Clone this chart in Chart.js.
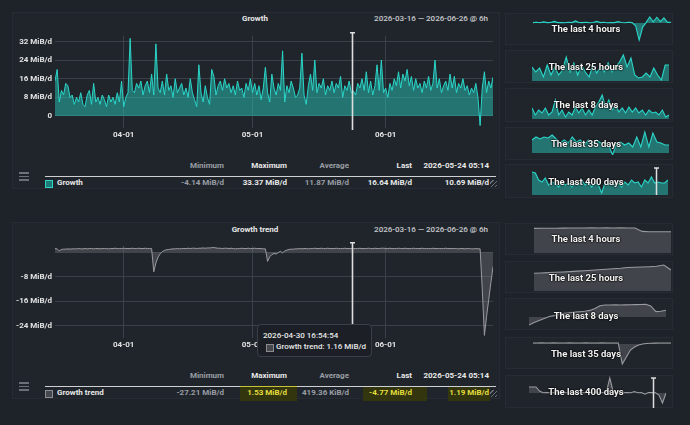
<!DOCTYPE html>
<html>
<head>
<meta charset="utf-8">
<script src="https://cdn.jsdelivr.net/npm/chart.js@4"></script>
<style>
html, body { margin: 0; padding: 0; }
body { position: relative; width: 690px; height: 425px; overflow: hidden; background: #1e2329; font-family: Roboto, "Noto Sans", sans-serif; }
.panel { position: absolute; background: #20252c; border: 1px solid #272c34; box-sizing: border-box; }
canvas { position: absolute; }
.t { position: absolute; line-height: 10px; font-size: 8px; font-weight: 700; color: #e8e8e8; white-space: nowrap; }
.g { color: #9a9ea4; }
.y { color: #e4df3c; }
.c { transform: translateX(-50%); }
.spark { position: absolute; font-size: 9.5px; font-weight: 700; color: #f2f2f2; line-height: 12px; white-space: nowrap; transform: translateX(-50%); text-shadow: 0 0 2px #000, 0 0 2px #000, 0 0 1px #000; z-index: 3; }
.hl { position: absolute; background: #33350e; }
.line { position: absolute; height: 1px; background: #cfd0d2; }
.burger { position: absolute; left: 19px; width: 10px; height: 1.5px; background: #6b7079; }
.grip { position: absolute; width: 7px; height: 7px; background: repeating-linear-gradient(135deg, transparent 0 2px, #6b7079 2px 3px); }
.sw { position: absolute; width: 6px; height: 6px; }
.tip { position: absolute; left: 257px; top: 324px; width: 115px; height: 33px; box-sizing: border-box; background: #1c2026; border: 1px solid #3b4048; border-radius: 4px; z-index: 4; }
</style>
</head>
<body>

<!-- panels -->
<div class="panel" style="left:12px;top:12px;width:488px;height:177px"></div>
<div class="panel" style="left:12px;top:222px;width:488px;height:177px"></div>
<div class="panel" style="left:505px;top:13px;width:168px;height:32px"></div>
<div class="panel" style="left:505px;top:50px;width:168px;height:33px"></div>
<div class="panel" style="left:505px;top:88px;width:168px;height:34px"></div>
<div class="panel" style="left:505px;top:127px;width:168px;height:33px"></div>
<div class="panel" style="left:505px;top:164px;width:168px;height:34px"></div>
<div class="panel" style="left:505px;top:223px;width:168px;height:32px"></div>
<div class="panel" style="left:505px;top:261px;width:168px;height:32px"></div>
<div class="panel" style="left:505px;top:298px;width:168px;height:32px"></div>
<div class="panel" style="left:505px;top:337px;width:168px;height:32px"></div>
<div class="panel" style="left:505px;top:375px;width:168px;height:33px"></div>

<!-- main charts -->
<canvas id="growth" width="500" height="120" style="left:0;top:28px"></canvas>
<canvas id="trend" width="500" height="120" style="left:0;top:238px"></canvas>

<div class="t c" style="left:255px;top:14px">Growth</div>
<div class="t g" style="right:202px;top:14px;color:#c9cbce;font-weight:500">2026-03-16 — 2026-06-26 @ 6h</div>
<div class="t c" style="left:255px;top:225px">Growth trend</div>
<div class="t g" style="right:202px;top:225px;color:#c9cbce;font-weight:500">2026-03-16 — 2026-06-26 @ 6h</div>

<!-- top table -->
<div class="burger" style="top:172px"></div>
<div class="burger" style="top:175.5px"></div>
<div class="burger" style="top:179px"></div>
<div class="t g" style="right:466px;top:161px">Minimum</div>
<div class="t" style="right:403px;top:161px">Maximum</div>
<div class="t g" style="right:341px;top:161px">Average</div>
<div class="t" style="right:278px;top:161px">Last</div>
<div class="t" style="right:201px;top:161px">2026-05-24 05:14</div>
<div class="line" style="left:45px;width:451px;top:176px"></div>
<div class="sw" style="left:45px;top:180px;border:1px solid #2fd3c6;background:#1f7b76"></div>
<div class="t" style="left:57px;top:178px">Growth</div>
<div class="t g" style="right:466px;top:178px">-4.14 MiB/d</div>
<div class="t" style="right:403px;top:178px">33.37 MiB/d</div>
<div class="t g" style="right:341px;top:178px">11.87 MiB/d</div>
<div class="t" style="right:278px;top:178px">16.64 MiB/d</div>
<div class="t" style="right:201px;top:178px">10.69 MiB/d</div>
<div class="grip" style="left:490px;top:180px"></div>

<!-- bottom table -->
<div class="burger" style="top:382px"></div>
<div class="burger" style="top:385.5px"></div>
<div class="burger" style="top:389px"></div>
<div class="hl" style="left:240px;top:386px;width:57px;height:14px;border-top:1px solid #c9c436"></div>
<div class="hl" style="left:363px;top:387px;width:64px;height:14px"></div>
<div class="hl" style="left:448px;top:386px;width:42px;height:15px"></div>
<div class="t g" style="right:466px;top:371px">Minimum</div>
<div class="t" style="right:403px;top:371px">Maximum</div>
<div class="t g" style="right:341px;top:371px">Average</div>
<div class="t" style="right:278px;top:371px">Last</div>
<div class="t" style="right:201px;top:371px">2026-05-24 05:14</div>
<div class="line" style="left:45px;width:195px;top:386px"></div>
<div class="line" style="left:297px;width:199px;top:386px"></div>
<div class="sw" style="left:45px;top:390px;border:1px solid #8a8c90;background:#45484d"></div>
<div class="t" style="left:57px;top:388px">Growth trend</div>
<div class="t g" style="right:466px;top:388px">-27.21 MiB/d</div>
<div class="t y" style="right:403px;top:388px">1.53 MiB/d</div>
<div class="t g" style="right:341px;top:388px">419.36 KiB/d</div>
<div class="t y" style="right:278px;top:388px">-4.77 MiB/d</div>
<div class="t y" style="right:201px;top:388px">1.19 MiB/d</div>
<div class="grip" style="left:490px;top:390px"></div>

<!-- tooltip -->
<div class="tip">
  <div class="t" style="left:5px;top:6px;font-weight:500">2026-04-30 16:54:54</div>
  <div class="sw" style="left:8px;top:19px;border:1px solid #8a8c90;background:#45484d"></div>
  <div class="t" style="left:18px;top:17px;font-weight:500">Growth trend: 1.16 MiB/d</div>
</div>

<!-- sparklines -->
<canvas id="s1" width="138" height="30" style="left:533px;top:14px"></canvas>
<canvas id="s2" width="137" height="29" style="left:532px;top:52px"></canvas>
<canvas id="s3" width="137" height="29" style="left:532px;top:90px"></canvas>
<canvas id="s4" width="137" height="26" style="left:532px;top:129px"></canvas>
<canvas id="s5" width="136" height="29" style="left:532px;top:166px"></canvas>
<canvas id="b1" width="137" height="27" style="left:534px;top:226px"></canvas>
<canvas id="b2" width="137" height="28" style="left:534px;top:263px"></canvas>
<canvas id="b3" width="137" height="30" style="left:529px;top:299px"></canvas>
<canvas id="b4" width="138" height="30" style="left:533px;top:338px"></canvas>
<canvas id="b5" width="137" height="32" style="left:529px;top:376px"></canvas>

<div class="spark" style="left:586px;top:23px">The last 4 hours</div>
<div class="spark" style="left:586px;top:61px">The last 25 hours</div>
<div class="spark" style="left:586px;top:99px">The last 8 days</div>
<div class="spark" style="left:586px;top:138px">The last 35 days</div>
<div class="spark" style="left:586px;top:176px">The last 400 days</div>
<div class="spark" style="left:586px;top:233px">The last 4 hours</div>
<div class="spark" style="left:586px;top:272px">The last 25 hours</div>
<div class="spark" style="left:586px;top:310px">The last 8 days</div>
<div class="spark" style="left:586px;top:348px">The last 35 days</div>
<div class="spark" style="left:586px;top:386px">The last 400 days</div>

<script>
// 2026-03-16 .. 2026-06-26, one value every 12h (x = days since 03-16)
const STEP = 0.5;
const tickDays = [16, 46, 77];
const tickLabels = ['04-01', '05-01', '06-01'];
const cursorDay = 69.2; // 2026-05-24 05:14

const growth = [
  15, 20, 6, 11, 9, 14, 13, 8, 9, 5,
  8, 6, 10, 5, 4, 9, 11, 5, 14, 6,
  8, 5, 9, 7, 4, 9, 6, 8, 5, 10,
  6, 15, 4, 8, 10, 33.37, 11, 10, 14, 12,
  15, 9, 13, 15, 10, 18, 9, 31, 12, 10,
  15, 9, 18, 11, 13, 8, 16, 10, 12, 14,
  9, 12, 8, 16, 10, 7, 4, 22, 10, 6,
  13, 8, 5, 20, 17, 9, 13, 15, 11, 16,
  12, 14, 10, 13, 9, 15, 11, 12, 8, 14,
  11, 16, 10, 14, 9, 13, 7, 12, 21, 10,
  6, 18, 12, 9, 14, 11, 28, 6, 13, 10,
  15, 12, 8, 9, 12, 27, 9, 5, 13, 18,
  11, 24, 10, 14, 12, 16, 9, 13, 11, 15,
  10, 14, 12, 17, 8, 13, 11, 15, 10, 10.69,
  9, 14, 12, 16, 11, 19, 10, 15, 9, 13,
  22, 11, 24, 10, 12, 8, 14, 11, 16, 13,
  19, 12, 18, 15, 20, 13, 17, 11, 16, 12,
  14, 10, 15, 12, 17, 11, 14, 24, 12, 16,
  10, 13, 15, 11, 18, 12, 17, 10, 14, 12,
  16, 11, 13, 9, 12, 10, 14, 8, -4.14, 12,
  19, 10, 15, 12, 16.64
];

const trend = [
  1.2, 1.1, 0.4, 0.9, 1.0, 1.0, 1.1, 1.0, 1.1, 1.1,
  1.1, 1.2, 1.1, 1.1, 1.2, 1.1, 1.2, 1.2, 1.1, 1.2,
  1.2, 1.1, 1.2, 1.2, 1.2, 1.1, 1.2, 1.2, 1.3, 1.2,
  1.2, 1.2, 1.3, 1.2, 1.2, 1.2, 1.3, 1.2, 1.2, 1.3,
  1.2, 1.2, 1.3, 1.2, 1.2, 1.2, -6.4, -3.5, -1.6, -0.5,
  0.2, 0.6, 0.8, 0.9, 1.0, 1.1, 1.1, 1.2, 1.1, 1.2,
  1.2, 1.2, 1.3, 1.2, 1.3, 1.3, 1.2, 1.3, 1.3, 1.4,
  1.3, 1.4, 1.4, 1.5, 1.53, 1.4, 1.3, 1.3, 1.2, 1.3,
  1.3, 1.2, 1.3, 1.2, 1.1, 1.2, 1.2, 1.3, 1.2, 1.2,
  1.3, 1.2, 1.2, 1.3, 1.2, 1.2, 1.2, 1.1, 1.1, -3.0,
  -1.5, -0.8, -0.4, -0.6, -0.1, 0.3, -0.2, 0.4, 0.7, 0.9,
  1.0, 1.0, 1.1, 1.1, 1.2, 1.1, 1.2, 1.2, 1.1, 1.2,
  1.2, 1.3, 1.2, 1.2, 1.3, 1.2, 1.2, 1.3, 1.2, 1.2,
  1.2, 1.3, 1.2, 1.2, 1.2, 1.3, 1.2, 1.2, 1.2, 1.19,
  1.2, 1.2, 1.3, 1.2, 1.2, 1.2, 1.3, 1.2, 1.2, 1.3,
  1.2, 1.2, 1.3, 1.3, 1.2, 1.2, 1.3, 1.2, 1.2, 1.2,
  1.3, 1.2, 1.2, 1.3, 1.2, 1.2, 1.2, 1.3, 1.2, 1.2,
  1.2, 1.3, 1.2, 1.2, 1.2, 1.2, 1.3, 1.2, 1.2, 1.2,
  1.2, 1.2, 1.3, 1.2, 1.2, 1.2, 1.2, 1.2, 1.1, 1.2,
  1.2, 1.1, 1.2, 1.2, 1.1, 1.1, 1.2, 1.1, 1.1, -12,
  -27.21, -21, -15.5, -10, -4.77
];

const growthTicks = [0, 8, 16, 24, 32];
const trendTicks = [-24, -16, -8, 0];

// sparklines (growth, teal)
const last4h = [0.3, 0.5, 0.2, 0.8, 0.3, 0.4, 1.2, 0.3, 0.4, 0.2, 0.6, 0.3, 1.5, 0.4, 0.3, 0.5, 0.2, 0.4, 1.3, 0.3, 0.5, 0.2, 0.4, 0.3, 1.0, 0.4, 0.2, 0.5, 0.3, -2, -12.5, -3, 0.5, 4.4, 0.8, 4.2, 1.0, 3.8, 0.5, 0.6];
const last25h = [14, 9, 13, 4, 16, 6, 14, 6, 11, 24, 9, 18, 6, 16, 9, 4, 16, 8, 14, 9, 18, 9, 14, 19, 26, 14, 23, 6, 3, 4, 8, 4, 13, 6, 1, 16, 16];
const last8d = [11, 4, 9, 6, 11, 4, 7, 19, 4, 9, 2, 7, 4, 12, 6, 11, 4, 9, 4, 12, 17, 24, 12, 19, 9, 14, 7, 11, 6, 12, 7, 11, 6, 9, 4, 9, 6, 7, 4, 9, 2, 4];
const last35d = [13, 16, 14, 16, 15, 18, 14, 10, 13, 10, 16, 11, 13, 8, 13, 10, 13, 10, 11, 8, -2, 10, 11, 8, 10, 6, 16, 6, 21, 6, 20, 11, 10, 8, 8];
const last400d = [23, 22, 15, 13, 17, 10, 13, 12, 8, 13, 10, 12, 8, 12, 10, 15, 10, 13, 8, 12, 10, 2, 12, 10, 13, 10, 12, 8, 13, 10, 15, 12, 13, 8, 15, 12, 18, 12, 13, 12, 12, 15];

// sparklines (growth trend, grey)
const trend4h = [24.6, 24.7, 24.8, 24.8, 24.9, 25, 25, 25, 25.1, 25, 25.1, 25, 25.1, 25, 25, 21.6, 21.3, 21.2, 21.2, 21.2];
const trend25h = [17.7, 18, 18.4, 18.7, 19, 19.4, 19.9, 20.3, 20.7, 21.2, 21.7, 22.3, 22.8, 23.5, 23.8, 24, 24.3, 24.7, 26, 21];
const trend8d = [-8, -5.5, -3.5, -1.5, 0.5, 1.5, 3.2, 3.8, 4.3, 4.9, 5.3, 5.8, 6.6, 8.5, 11.3, 12, 12, 12.2, 12, 12.1, 12.3, 12.4, 12.5, 12.7, 11, 5.4, 5.8, 6.8];
const trend35d = [1, 1, 1.1, 1, 1, 1.1, 1, 1, 1, 1.1, 1, 1, 1, 1.1, 1, 1, 1, 1.1, 1, 1, 1, 1, -20, -13, -6, -3, -1, 0, 0.5, 0.8, 0.9, 1, 1, 1, 1];
const trend400d = [6, 6, 6, 2, 0.3, 0.5, 0.2, 0.4, 0.3, 0.2, 0.5, 0.3, 0.4, 0.6, 0.2, 0.5, 0.3, 0.8, 0.4, 0.3, 0.6, 0.4, 0.5, 15, 0.5, 0.3, 0.6, 0.4, 0.5, 0.2, 1.5, 0.3, 0.5, -1.2, 0.4, 0.5, 0.3, -2, -10, 0];

const TEAL = '#2ad6c8';
const TEAL_FILL = 'rgba(42,211,198,0.46)';
const GREY = '#9a9b9e';
const GREY_FILL = 'rgba(150,152,156,0.28)';
const GRID = '#394048';

const cursorLine = {
  id: 'cursorLine',
  afterDatasetsDraw(chart, args, opts) {
    if (opts.at == null) return;
    const ctx = chart.ctx, area = chart.chartArea;
    const x = Math.round(chart.scales.x.getPixelForValue(opts.at)) + 0.5;
    const top = area.top - opts.over;
    ctx.save();
    ctx.strokeStyle = '#dedede';
    ctx.lineWidth = opts.width;
    ctx.beginPath();
    ctx.moveTo(x, top);
    ctx.lineTo(x, area.bottom + opts.under);
    ctx.moveTo(x - 2.5, top);
    ctx.lineTo(x + 2.5, top);
    ctx.stroke();
    ctx.restore();
  }
};
Chart.register(cursorLine);

function points(values, step) {
  return values.map((v, i) => ({ x: i * step, y: v }));
}

function mainChart(id, values, line, fill, ymin, ymax, yticks) {
  return new Chart(document.getElementById(id), {
    type: 'line',
    data: {
      datasets: [{
        data: points(values, STEP),
        borderColor: line,
        backgroundColor: fill,
        borderWidth: 1,
        fill: 'origin',
        pointRadius: 0,
        tension: 0
      }]
    },
    options: {
      responsive: false,
      animation: false,
      events: [],
      layout: { padding: { top: 4, right: 7, left: 0, bottom: 0 } },
      plugins: {
        legend: { display: false },
        tooltip: { enabled: false },
        cursorLine: { at: cursorDay, over: 3, under: 2, width: 1.6 }
      },
      scales: {
        x: {
          type: 'linear',
          min: 0,
          max: 102,
          afterBuildTicks: s => { s.ticks = tickDays.map(v => ({ value: v })); },
          afterFit: s => { s.height = 20; },
          ticks: {
            autoSkip: false,
            maxRotation: 0,
            padding: 2,
            color: '#e2e2e2',
            font: { family: 'Roboto', size: 8, weight: 'bold' },
            callback: (v, i) => tickLabels[i]
          },
          grid: { color: GRID, drawTicks: false },
          border: { display: false }
        },
        y: {
          min: ymin,
          max: ymax,
          afterBuildTicks: s => { s.ticks = yticks.map(v => ({ value: v })); },
          afterFit: s => { s.width = 55; },
          ticks: {
            padding: 3,
            color: '#e2e2e2',
            font: { family: 'Roboto', size: 8, weight: 'bold' },
            callback: v => (yticks[0] < 0 && v === 0) ? '' : (v === 0 ? '0' : v + ' MiB/d')
          },
          grid: { color: GRID, drawTicks: false },
          border: { display: false }
        }
      }
    }
  });
}

mainChart('growth', growth, TEAL, TEAL_FILL, -5.17, 34.46, growthTicks);
mainChart('trend', trend, GREY, GREY_FILL, -28.06, 2.1, trendTicks);

function spark(id, values, line, fill, ymin, ymax, cursorAt) {
  return new Chart(document.getElementById(id), {
    type: 'line',
    data: {
      datasets: [{
        data: points(values, 1),
        borderColor: line,
        backgroundColor: fill,
        borderWidth: 1.1,
        fill: 'origin',
        pointRadius: 0,
        tension: 0
      }]
    },
    options: {
      responsive: false,
      animation: false,
      events: [],
      layout: { padding: 0 },
      plugins: {
        legend: { display: false },
        tooltip: { enabled: false },
        cursorLine: { at: cursorAt, over: -2, under: 0, width: 1.5 }
      },
      scales: {
        x: { type: 'linear', min: 0, max: values.length - 1, display: false },
        y: { min: ymin, max: ymax, display: false }
      }
    }
  });
}

spark('s1', last4h, TEAL, TEAL_FILL, -15.4, 6.6);
spark('s2', last25h, TEAL, TEAL_FILL, 0, 29);
spark('s3', last8d, TEAL, TEAL_FILL, 0, 29);
spark('s4', last35d, TEAL, TEAL_FILL, -2, 24);
spark('s5', last400d, TEAL, TEAL_FILL, 0, 29, 37.4);
spark('b1', trend4h, GREY, GREY_FILL, 0, 27);
spark('b2', trend25h, GREY, GREY_FILL, 0, 28);
spark('b3', trend8d, GREY, GREY_FILL, -12, 18);
spark('b4', trend35d, GREY, GREY_FILL, -24, 6);
spark('b5', trend400d, GREY, GREY_FILL, -15, 17, 35.4);
</script>
</body>
</html>
